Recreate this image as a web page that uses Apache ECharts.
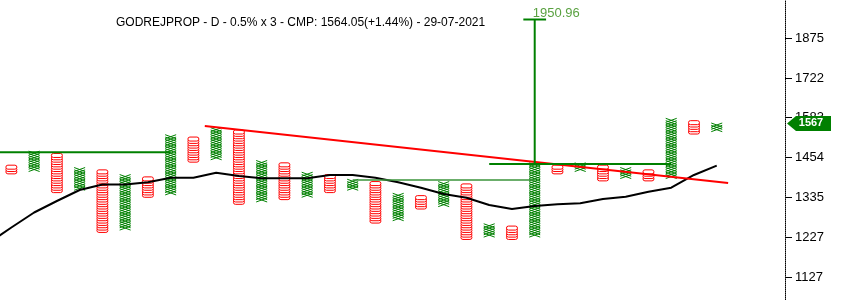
<!DOCTYPE html>
<html>
<head>
<meta charset="utf-8">
<script src="https://cdn.jsdelivr.net/npm/echarts@6/dist/echarts.min.js"></script>
<style>
html, body { margin: 0; padding: 0; background: #fff; }
#main { width: 852px; height: 300px; }
</style>
</head>
<body>
<div id="main"></div>
<script>
// point & figure, 0.5% box, 3 box reversal
var BASE = 1127;
var BOX = 0.005;

var colTypes = ['O','X','O','X','O','X','O','X','O','X','O','X','O','X','O','X',
                'O','X','O','X','O','X','O','X','O','X','O','X','O','X','O','X'];
var colLows = [1410.6, 1417.6, 1355.4, 1362.2, 1245.2, 1251.4, 1341.9, 1348.7,
               1446.2, 1453.4, 1322.0, 1328.6, 1335.3, 1341.9, 1355.4, 1362.2,
               1270.3, 1276.7, 1308.9, 1315.4, 1226.7, 1232.9, 1226.7, 1232.9,
               1410.6, 1417.6, 1389.6, 1396.6, 1389.6, 1396.6, 1535.4, 1543.1];
var colHighs = [1424.7, 1468.0, 1460.7, 1417.6, 1410.6, 1396.6, 1389.6, 1520.2,
                1512.6, 1543.1, 1535.4, 1439.0, 1431.8, 1403.6, 1396.6, 1382.7,
                1375.8, 1341.9, 1335.3, 1375.8, 1369.0, 1257.7, 1251.4, 1431.8,
                1424.7, 1431.8, 1424.7, 1417.6, 1410.6, 1574.2, 1566.3, 1558.5];

// moving average, first value belongs to the column before the first one shown
var maValues = [1212.4, 1253.0, 1293.7, 1325.7, 1357.1, 1373.1, 1373.1, 1379.6, 1393.2,
                1393.2, 1408.1, 1398.2, 1391.4, 1391.4, 1391.4, 1401.2, 1401.2, 1393.2,
                1379.6, 1363.8, 1345.6, 1335.1, 1314.5, 1303.4, 1311.7, 1316.5, 1319.3,
                1331.4, 1337.9, 1352.2, 1363.8, 1401.2, 1429.2];

var tickLabels = [1127, 1227, 1335, 1454, 1583, 1722, 1875];

var trendLine = [[8.5, 1555.3], [31.5, 1377.6]];
var supportA = [[-0.5, 1470.6], [7, 1470.6]];
var supportB = [[15, 1386.4], [23, 1386.4]];
var breakout = [[21, 1434.4], [29, 1434.4]];
var targetCol = 23;
var targetFrom = 1434.4;
var targetPrice = 1950.96;
var lastPrice = 1567;

var titleText = 'GODREJPROP - D - 0.5% x 3 - CMP: 1564.05(+1.44%) - 29-07-2021';

function toBox(p) {
    return Math.log(p / BASE) / Math.log(1 + BOX);
}
function pts(arr) {
    return arr.map(function (d) { return [d[0], toBox(d[1])]; });
}

var chartDom = document.getElementById('main');
var myChart = echarts.init(chartDom);
var option;

var colData = colTypes.map(function (t, i) {
    return [i, toBox(colLows[i]), toBox(colHighs[i])];
});
var maData = maValues.map(function (v, i) { return [i - 1, toBox(v)]; });

function renderColumn(params, api) {
    var i = api.value(0);
    var lo = Math.round(api.value(1));
    var hi = Math.round(api.value(2));
    var isX = colTypes[params.dataIndex] === 'X';
    var children = [];
    for (var b = lo; b <= hi; b++) {
        var p = api.coord([i, b]);
        if (isX) {
            children.push({
                type: 'polyline',
                shape: { points: [[p[0] - 5.5, p[1] - 2], [p[0] + 5.5, p[1] + 2]] },
                style: { stroke: '#008000', lineWidth: 1, fill: null }
            });
            children.push({
                type: 'polyline',
                shape: { points: [[p[0] - 5.5, p[1] + 2], [p[0] + 5.5, p[1] - 2]] },
                style: { stroke: '#008000', lineWidth: 1, fill: null }
            });
        } else {
            children.push({
                type: 'rect',
                shape: { x: p[0] - 5.5, y: p[1] - 2, width: 11, height: 4, r: 2 },
                style: { stroke: '#ff0000', lineWidth: 1, fill: '#fff' }
            });
        }
    }
    return { type: 'group', children: children };
}

function renderTag(params, api) {
    var p = api.coord([api.value(0), api.value(1)]);
    var x = p[0] + 2, y = p[1] + 1;
    return {
        type: 'group',
        children: [{
            type: 'polygon',
            shape: { points: [[x, y], [x + 9, y - 7.5], [x + 44, y - 7.5], [x + 44, y + 7.5], [x + 9, y + 7.5]] },
            style: { fill: '#008000' }
        }, {
            type: 'text',
            x: x + 24, y: y,
            style: {
                text: String(lastPrice), fill: '#fff', fontSize: 11, fontWeight: 'bold',
                fontFamily: 'Liberation Sans', align: 'center', verticalAlign: 'middle'
            }
        }]
    };
}

option = {
    animation: false,
    backgroundColor: '#fff',
    title: {
        text: titleText,
        left: 116,
        top: 17,
        padding: 0,
        textStyle: { fontSize: 12, fontWeight: 'normal', color: '#000', fontFamily: 'Liberation Sans' }
    },
    grid: { left: 0, right: 67, top: 0, bottom: 0, containLabel: false },
    xAxis: {
        type: 'value', min: -0.5, max: 34, show: false
    },
    yAxis: {
        type: 'value',
        position: 'right',
        min: -9.69,
        max: 118.35,
        splitLine: { show: false },
        axisLine: { show: true, onZero: false, lineStyle: { color: '#000', width: 1, type: 'dotted' } },
        axisTick: { show: true, length: 7, lineStyle: { color: '#000' }, customValues: tickLabels.map(toBox) },
        axisLabel: {
            margin: 10,
            color: '#000',
            fontSize: 13,
            fontFamily: 'Liberation Sans',
            customValues: tickLabels.map(toBox),
            formatter: function (v) { return Math.round(BASE * Math.pow(1 + BOX, v)); }
        }
    },
    series: [
        {
            name: 'MA', type: 'line', data: maData, showSymbol: false, symbol: 'none',
            lineStyle: { color: '#000', width: 2 }, z: 3
        },
        {
            name: 'Columns', type: 'custom', renderItem: renderColumn, data: colData, z: 2
        },
        {
            name: 'Trend', type: 'line', data: pts(trendLine), symbol: 'none',
            lineStyle: { color: '#ff0000', width: 2 }, z: 4
        },
        {
            name: 'SupportA', type: 'line', data: pts(supportA), symbol: 'none',
            lineStyle: { color: '#008000', width: 2 }, z: 4
        },
        {
            name: 'SupportB', type: 'line', data: pts(supportB), symbol: 'none',
            lineStyle: { color: '#3a933a', width: 1.5 }, z: 4
        },
        {
            name: 'Breakout', type: 'line', data: pts(breakout), symbol: 'none',
            lineStyle: { color: '#008000', width: 2 }, z: 4
        },
        {
            name: 'Target', type: 'line',
            data: pts([[targetCol, targetFrom], [targetCol, targetPrice]]), symbol: 'none',
            lineStyle: { color: '#008000', width: 2 }, z: 4
        },
        {
            name: 'TargetBar', type: 'line',
            data: pts([[targetCol - 0.5, targetPrice], [targetCol + 0.5, targetPrice]]), symbol: 'none',
            lineStyle: { color: '#008000', width: 2 }, z: 4
        },
        {
            name: 'TargetLabel', type: 'scatter', symbolSize: 0,
            data: pts([[targetCol, targetPrice]]),
            label: {
                show: true, position: [0, 0], offset: [-2, 0], align: 'left', verticalAlign: 'bottom',
                formatter: String(targetPrice), color: '#2f8a10', fontSize: 13, fontFamily: 'Liberation Sans'
            }, z: 5
        },
        {
            name: 'Last', type: 'custom', renderItem: renderTag, clip: false,
            data: [[34, toBox(lastPrice)]], z: 10
        }
    ]
};

option && myChart.setOption(option);
</script>
</body>
</html>
